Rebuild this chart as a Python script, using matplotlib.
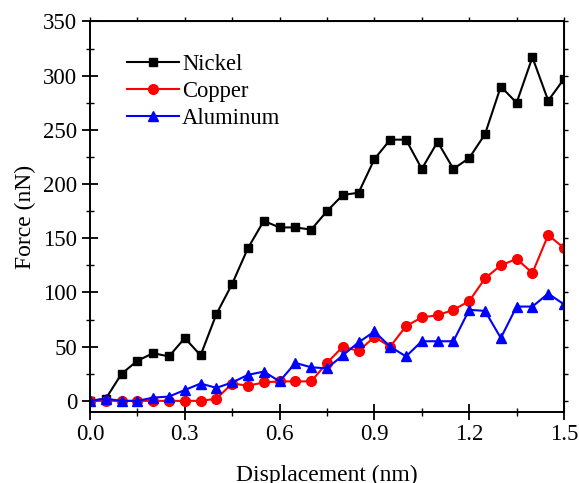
import matplotlib
matplotlib.use('Agg')
import matplotlib.pyplot as plt
from matplotlib.ticker import MultipleLocator

plt.rcParams['font.family'] = ['Liberation Serif', 'DejaVu Serif']

disp = [0.0, 0.05, 0.1, 0.15, 0.2, 0.25, 0.3, 0.35, 0.4, 0.45, 0.5,
        0.55, 0.6, 0.65, 0.7, 0.75, 0.8, 0.85, 0.9, 0.95, 1.0,
        1.05, 1.1, 1.15, 1.2, 1.25, 1.3, 1.35, 1.4, 1.45, 1.5]
nickel = [0, 2, 25, 37, 44, 41, 58, 42, 80, 108, 141,
          166, 160, 160, 158, 175, 190, 192, 223, 241, 241,
          214, 239, 214, 224, 246, 290, 275, 317, 277, 297]
copper = [0, 0, 0, 0, 0, 0, 0, 0, 2, 16, 14,
          17, 18, 18, 18, 35, 50, 46, 59, 50, 69,
          77, 79, 84, 92, 113, 125, 131, 118, 153, 141]
aluminum = [0, 2, 0, 0, 3, 4, 10, 16, 12, 17, 24,
            27, 18, 35, 31, 30, 42, 54, 64, 50, 41,
            55, 55, 55, 84, 83, 58, 87, 87, 99, 89]

fig = plt.figure(figsize=(5.79, 4.83), dpi=100)
ax = fig.add_axes([0.1554, 0.1476, 0.8187, 0.8079])

ax.plot(disp, nickel, '-s', color='black', lw=1.5, ms=6.3, label='Nickel')
ax.plot(disp, copper, '-o', color='red', lw=1.5, ms=7, label='Copper')
ax.plot(disp, aluminum, '-^', color='blue', lw=1.5, ms=7.5, label='Aluminum')

ax.set_xlim(0, 1.5)
ax.set_ylim(-10, 350)
ax.xaxis.set_major_locator(MultipleLocator(0.3))
ax.xaxis.set_minor_locator(MultipleLocator(0.15))
ax.yaxis.set_major_locator(MultipleLocator(50))
ax.yaxis.set_minor_locator(MultipleLocator(25))
ax.set_xticks([0.0, 0.3, 0.6, 0.9, 1.2, 1.5])
ax.set_xticklabels(['0.0', '0.3', '0.6', '0.9', '1.2', '1.5'])

ax.tick_params(which='major', direction='inout', length=12, width=1.3,
               labelsize=16.5, pad=3)
ax.tick_params(which='minor', direction='inout', length=6, width=1.0)
for s in ax.spines.values():
    s.set_linewidth(1.4)

# small outward ticks on the top and right
top = ax.secondary_xaxis('top')
top.xaxis.set_major_locator(MultipleLocator(0.15))
top.tick_params(direction='out', length=3, width=1.0, labeltop=False)
right = ax.secondary_yaxis('right')
right.yaxis.set_major_locator(MultipleLocator(25))
right.tick_params(direction='out', length=3, width=1.0, labelright=False)

ax.set_xlabel('Displacement (nm)', fontsize=17, labelpad=14)
ax.set_ylabel('Force (nN)', fontsize=17, labelpad=5)

ax.legend(loc='upper left', bbox_to_anchor=(0.044, 0.957), frameon=False,
          fontsize=16.3, handlelength=2.3, handletextpad=0.15,
          labelspacing=0.27, borderpad=0.2)

fig.savefig('out.png', dpi=100)
